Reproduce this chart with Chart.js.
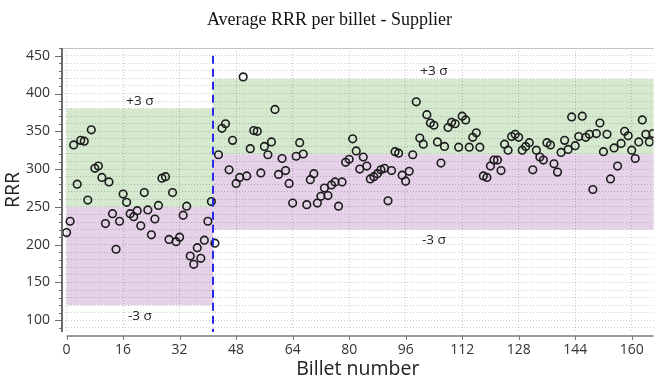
<!DOCTYPE html>
<html>
<head>
<meta charset="utf-8">
<script src="https://cdn.jsdelivr.net/npm/chart.js@4/dist/chart.umd.min.js"></script>
<style>
  html, body { margin: 0; padding: 0; background: #ffffff; }
  #wrap { width: 659px; height: 381px; }
</style>
</head>
<body>
<div id="wrap"><canvas id="c" width="659" height="381"></canvas></div>
<script>
// Average RRR of each billet, in billet order (billet number = position)
const billetRRR = [
  216, 231, 332, 280, 338, 337, 259, 352, 301, 304,
  289, 228, 283, 241, 194, 231, 267, 256, 241, 237,
  245, 225, 269, 246, 213, 234, 252, 288, 290, 207,
  269, 204, 210, 239, 251, 185, 174, 196, 182, 206,
  231, 257, 202, 319, 354, 360, 299, 338, 281, 289,
  422, 291, 327, 351, 350, 295, 330, 319, 336, 379,
  293, 314, 298, 281, 255, 317, 335, 320, 253, 286,
  294, 255, 264, 275, 265, 279, 283, 251, 283, 309,
  313, 340, 324, 300, 316, 304, 287, 290, 294, 299,
  301, 258, 298, 323, 321, 292, 284, 297, 319, 389,
  341, 333, 372, 361, 358, 336, 308, 330, 355, 362,
  360, 329, 370, 365, 329, 342, 348, 329, 291, 289,
  304, 312, 312, 298, 333, 325, 343, 346, 342, 325,
  330, 335, 299, 325, 316, 312, 335, 332, 307, 296,
  322, 338, 326, 369, 331, 343, 370, 342, 346, 273,
  347, 361, 323, 346, 287, 328, 304, 334, 350, 344,
  325, 314, 336, 365, 346, 336, 347
];

// Supplier change: the two production segments and their statistics
const changePoint = 41.5;
const segmentStart = [0, 41.5];
const segmentEnd = [41.5, 166.5];
const segmentMean = [250, 319.5];
const segmentSigma = [43.3, 33.2];
const upperLabel = '+3 σ';
const lowerLabel = '-3 σ';

// Axis ticks
const xTickValues = [0, 16, 32, 48, 64, 80, 96, 112, 128, 144, 160];
const yTickValues = [100, 150, 200, 250, 300, 350, 400, 450];
const yMinorTicks = [90, 100, 110, 120, 130, 140, 150, 160, 170, 180, 190, 200,
  210, 220, 230, 240, 250, 260, 270, 280, 290, 300, 310, 320, 330, 340, 350,
  360, 370, 380, 390, 400, 410, 420, 430, 440, 450, 460];

const titleText = 'Average RRR per billet - Supplier';
const xTitle = 'Billet number';
const yTitle = 'RRR';

const SANS = "'Open Sans', 'Noto Sans', sans-serif";

// Shaded ±3σ bands for each segment (upper half green, lower half purple)
const bandPlugin = {
  id: 'bands',
  beforeDraw(chart) {
    const { ctx, chartArea, scales } = chart;
    const x = scales.x, y = scales.y;
    ctx.save();
    ctx.beginPath();
    ctx.rect(chartArea.left, chartArea.top, chartArea.right - chartArea.left, chartArea.bottom - chartArea.top);
    ctx.clip();
    segmentMean.forEach((m, i) => {
      const s = segmentSigma[i];
      const x0 = x.getPixelForValue(segmentStart[i]);
      const x1 = x.getPixelForValue(segmentEnd[i]);
      const yTop = y.getPixelForValue(m + 3 * s);
      const yMid = y.getPixelForValue(m);
      const yBot = y.getPixelForValue(m - 3 * s);
      ctx.fillStyle = 'rgb(212, 233, 206)';
      ctx.fillRect(x0, yTop, x1 - x0, yMid - yTop);
      ctx.fillStyle = 'rgb(229, 209, 232)';
      ctx.fillRect(x0, yMid, x1 - x0, yBot - yMid);
    });
    ctx.restore();
  },
  afterDatasetsDraw(chart) {
    const { ctx, scales } = chart;
    const x = scales.x, y = scales.y;
    ctx.save();
    // change point marker
    ctx.strokeStyle = 'rgb(40, 40, 235)';
    ctx.lineWidth = 2;
    ctx.setLineDash([8, 5]);
    const cx = Math.round(x.getPixelForValue(changePoint));
    ctx.beginPath();
    ctx.moveTo(cx, y.getPixelForValue(450));
    ctx.lineTo(cx, chart.chartArea.bottom);
    ctx.stroke();
    ctx.setLineDash([]);
    // band labels
    ctx.fillStyle = '#222';
    ctx.font = "13.5px " + SANS;
    ctx.textAlign = 'center';
    ctx.textBaseline = 'middle';
    segmentMean.forEach((m, i) => {
      const s = segmentSigma[i];
      const mx = x.getPixelForValue((segmentStart[i] + segmentEnd[i]) / 2);
      ctx.fillText(upperLabel, mx, y.getPixelForValue(m + 3 * s) - 8);
      ctx.fillText(lowerLabel, mx, y.getPixelForValue(m - 3 * s) + 11);
    });
    ctx.restore();
  },
  afterDraw(chart) {
    const { ctx, chartArea, scales } = chart;
    const x = scales.x, y = scales.y;
    ctx.save();
    // top frame line
    ctx.strokeStyle = '#c4c4c4';
    ctx.lineWidth = 1;
    ctx.beginPath();
    ctx.moveTo(chartArea.left, chartArea.top + 0.5);
    ctx.lineTo(chartArea.right, chartArea.top + 0.5);
    ctx.stroke();
    // y axis spine with ticks
    ctx.strokeStyle = '#6a6a6a';
    ctx.lineWidth = 2;
    ctx.beginPath();
    ctx.moveTo(chartArea.left, chartArea.top);
    ctx.lineTo(chartArea.left, chartArea.bottom);
    ctx.stroke();
    ctx.lineWidth = 1;
    yMinorTicks.forEach(v => {
      const py = Math.round(y.getPixelForValue(v)) + 0.5;
      const len = yTickValues.includes(v) ? 7 : 3;
      ctx.beginPath();
      ctx.moveTo(chartArea.left - len, py);
      ctx.lineTo(chartArea.left, py);
      ctx.stroke();
    });
    // x axis spine, offset below the plot
    const ay = chartArea.bottom + 4;
    ctx.strokeStyle = '#7a7a7a';
    ctx.lineWidth = 1.6;
    ctx.beginPath();
    ctx.moveTo(x.getPixelForValue(xTickValues[0]), ay);
    ctx.lineTo(chartArea.right, ay);
    ctx.stroke();
    ctx.lineWidth = 1;
    xTickValues.forEach(v => {
      const px = Math.round(x.getPixelForValue(v)) + 0.5;
      ctx.beginPath();
      ctx.moveTo(px, ay);
      ctx.lineTo(px, ay + 4);
      ctx.stroke();
    });
    ctx.restore();
  }
};

new Chart(document.getElementById('c'), {
  type: 'scatter',
  data: {
    datasets: [{
      data: billetRRR.map((v, i) => ({ x: i, y: v })),
      pointRadius: 3.8,
      pointHoverRadius: 3.8,
      pointBorderWidth: 1.6,
      pointBorderColor: '#1c1c1c',
      pointBackgroundColor: 'rgba(0,0,0,0)',
      showLine: false
    }]
  },
  plugins: [bandPlugin],
  options: {
    responsive: false,
    devicePixelRatio: 1,
    animation: false,
    layout: { padding: 0 },
    plugins: {
      legend: { display: false },
      tooltip: { enabled: false },
      title: {
        display: true,
        text: titleText,
        color: '#111',
        font: { family: "'Liberation Serif', 'DejaVu Serif', serif", size: 18, weight: 'normal', lineHeight: 1.2 },
        padding: { top: 9, bottom: 17.4 }
      }
    },
    scales: {
      x: {
        type: 'linear',
        min: -1.3,
        max: 166.2,
        afterBuildTicks: s => { s.ticks = xTickValues.map(v => ({ value: v })); },
        afterFit: s => { s.height = 49; },
        grid: { color: 'rgba(0,0,0,0.2)', lineWidth: 1, drawTicks: true, tickLength: 8, tickColor: 'rgba(0,0,0,0)' },
        border: { display: false, dash: [1, 2] },
        ticks: { color: '#333', font: { family: SANS, size: 14 }, padding: 2, maxRotation: 0, autoSkip: false },
        title: { display: true, text: xTitle, color: '#222', font: { family: SANS, size: 19.5 }, padding: { top: 0, bottom: 0 } }
      },
      y: {
        type: 'linear',
        min: 84.5,
        max: 460.2,
        afterBuildTicks: s => { s.ticks = yMinorTicks.map(v => ({ value: v })); },
        afterFit: s => { s.width = 62; },
        grid: { color: 'rgba(0,0,0,0.2)', lineWidth: 1, drawTicks: true, tickLength: 7, tickColor: 'rgba(0,0,0,0)' },
        border: { display: false, dash: [1, 2] },
        ticks: {
          color: '#333',
          font: { family: SANS, size: 14 },
          padding: 5,
          autoSkip: false,
          callback: v => (yTickValues.includes(v) ? String(v) : '')
        },
        title: { display: true, text: yTitle, color: '#222', font: { family: SANS, size: 19.5 }, padding: { top: 2, bottom: 0 } }
      }
    }
  }
});
</script>
</body>
</html>
